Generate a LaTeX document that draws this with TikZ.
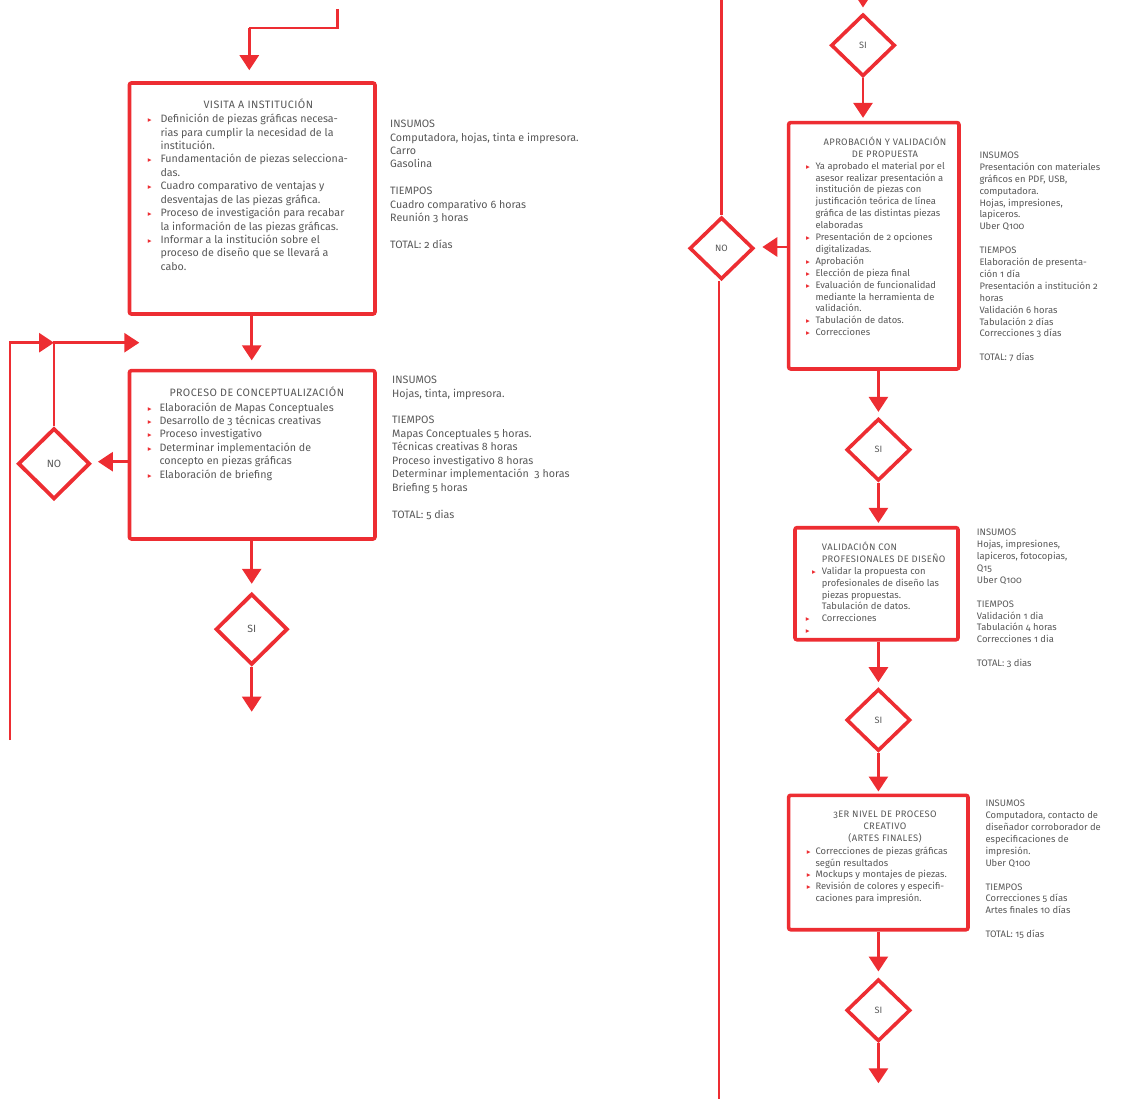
\documentclass[tikz,border=0pt]{standalone}
\usepackage{fontspec}
\setmainfont{Fira Sans}[Numbers=OldStyle]
\newfontfamily\symf{DejaVu Sans}
\newfontfamily\capsf{Fira Sans}[Numbers=OldStyle,LetterSpace=4]
\usetikzlibrary{arrows.meta,shapes.geometric}
\definecolor{accent}{RGB}{237,45,50}
\definecolor{txt}{RGB}{88,88,88}
\newlength\bw
\newcommand\bul{{\symf\fontsize{7.5}{7.5}\selectfont\textcolor{accent}{\char"25B8}}}
\newcommand\B{\makebox[\bw][l]{\bul}}
\newcommand\I{\hspace*{\bw}}
\tikzset{
  procbox/.style={draw=accent, line width=3.6pt, rounded corners=2pt, inner sep=0pt},
  decL/.style={diamond, draw=accent, line width=3.8pt, inner sep=0pt, minimum width=72pt, minimum height=71pt, text=txt, font=\fontsize{10.5}{11}\selectfont},
  decR/.style={diamond, draw=accent, line width=3.6pt, inner sep=0pt, minimum width=64pt, minimum height=62pt, text=txt, font=\fontsize{9.2}{10}\selectfont},
  conn/.style={draw=accent, line width=2.8pt},
  arr/.style={conn, -{Triangle[width=19pt,length=15pt]}},
  bigtxt/.style={inner sep=0pt, text=txt, font=\fontsize{10.7}{13.43}\selectfont},
  smalltxt/.style={inner sep=0pt, text=txt, font=\fontsize{9.4}{11.9}\selectfont},
  bigcap/.style={inner sep=0pt, text=txt, font=\capsf\fontsize{10.7}{13.43}\selectfont},
  smallcap/.style={inner sep=0pt, text=txt, font=\capsf\fontsize{9.4}{11.9}\selectfont},
}
\begin{document}
\begin{tikzpicture}[x=1pt,y=-1pt]
\useasboundingbox (0,0) rectangle (1145,1099);

% ---------------- left column ----------------
\node[procbox, minimum width=245.5pt, minimum height=231pt] (b1) at (252.2,198.5) {};
\node[procbox, minimum width=245.5pt, minimum height=168.3pt] (b2) at (252.2,454.8) {};
\node[decL] (no1) at (54,463.7) {NO};
\node[decL] (si1) at (251.7,629.2) {SI};

\coordinate (s0) at (337.3,9);
\coordinate (s1) at (337.3,28);
\coordinate (k1) at (249.3,28);
\coordinate (e1) at (251.7,711.7);
\coordinate (t1) at (139.3,342.7);
\coordinate (l0) at (10,740);

\draw[conn] (s0) -- (s1) -- (k1);
\draw[arr, shorten >=11pt] (k1) -- (k1 |- b1.north);
\draw[arr, shorten >=8.5pt] (b1.south -| si1) -- (b2.north -| si1);
\draw[arr, shorten >=8pt] (b2.south -| si1) -- (si1.north);
\draw[arr] (si1.south) -- (e1);
\draw[arr, shorten >=6pt] (b2.west |- 0,461.7) -- (no1.east |- 0,461.7);
\draw[arr] (no1.north) |- (t1);
\draw[arr] (l0) |- (no1.north |- t1);

% box 1 text
\node[bigcap, anchor=base] (b1t) at (258.3,108.5) {VISITA A INSTITUCIÓN};
\node[bigtxt, anchor=north west] (b1l) at (147.7,113.1) {\setlength\bw{12.6pt}\begin{tabular}{@{}l@{}}
\B Definición de piezas gráficas necesa-\\
\I rias para cumplir la necesidad de la\\
\I institución.\\
\B Fundamentación de piezas selecciona-\\
\I das.\\
\B Cuadro comparativo de ventajas y\\
\I desventajas de las piezas gráfica.\\
\B Proceso de investigación para recabar\\
\I la información de las piezas gráficas.\\
\B Informar a la institución sobre el\\
\I proceso de diseño que se llevará a\\
\I cabo.
\end{tabular}};
\node[bigtxt, anchor=north west] (s1t) at (390,118.1) {\begin{tabular}{@{}l@{}}
INSUMOS\\
Computadora, hojas, tinta e impresora.\\
Carro\\
Gasolina\\
{}\\
TIEMPOS\\
Cuadro comparativo 6 horas\\
Reunión 3 horas\\
{}\\
TOTAL: 2 días
\end{tabular}};

% box 2 text
\node[bigcap, anchor=base] (b2t) at (256.8,396.8) {PROCESO DE CONCEPTUALIZACIÓN};
\node[bigtxt, anchor=north west] (b2l) at (147.7,401.4) {\setlength\bw{11.6pt}\begin{tabular}{@{}l@{}}
\B Elaboración de Mapas Conceptuales\\
\B Desarrollo de 3 técnicas creativas\\
\B Proceso investigativo\\
\B Determinar implementación de\\
\I concepto en piezas gráficas\\
\B Elaboración de briefing
\end{tabular}};
\node[bigtxt, anchor=north west] (s2t) at (392,374.1) {\begin{tabular}{@{}l@{}}
INSUMOS\\
Hojas, tinta, impresora.\\
{}\\
TIEMPOS\\
Mapas Conceptuales 5 horas.\\
Técnicas creativas 8 horas\\
Proceso investigativo 8 horas\\
Determinar implementación\ \ 3 horas\\
Briefing 5 horas\\
{}\\
TOTAL: 5 dias
\end{tabular}};

% ---------------- right column ----------------
\node[decR] (sir1) at (863,45.3) {SI};
\node[procbox, minimum width=170.3pt, minimum height=246.3pt] (b3) at (873.8,245.8) {};
\node[decR] (nor) at (721.5,248.3) {NO};
\node[decR] (sir2) at (878.4,449.7) {SI};
\node[procbox, minimum width=163pt, minimum height=112pt] (b4) at (876.5,583.7) {};
\node[decR] (sir3) at (878.4,720) {SI};
\node[procbox, minimum width=179.3pt, minimum height=134.4pt] (b5) at (878.3,862.5) {};
\node[decR] (sir4) at (878.4,1010.3) {SI};

\coordinate (r0) at (863,0);
\coordinate (rt) at (721.5,0);
\coordinate (rb) at (719,1099);
\coordinate (e2) at (878.4,1083.3);

\draw[arr, shorten >=5pt] (r0) -- (sir1.north);
\draw[arr, shorten >=3pt] (sir1.south) -- (sir1.south |- b3.north);
\draw[arr, shorten >=5pt] (b3.south -| sir2.north) -- (sir2.north);
\draw[arr, shorten >=3pt] (sir2.south) -- (sir2.south |- b4.north);
\draw[arr, shorten >=5pt] (b4.south -| sir3.north) -- (sir3.north);
\draw[arr, shorten >=2pt] (sir3.south) -- (sir3.south |- b5.north);
\draw[arr, shorten >=6pt] (b5.south -| sir4.north) -- (sir4.north);
\draw[arr] (sir4.south) -- (e2);
\draw[arr, shorten >=7pt] (b3.west |- 0,247) -- (nor.east |- 0,247);
\draw[conn] (rt) -- (nor.north);
\draw[conn] (nor.south -| rb) -- (rb);

% box 3 text
\node[smallcap, anchor=north] (b3t) at (885,136.6) {\begin{tabular}{@{}c@{}}APROBACIÓN Y VALIDACIÓN\\DE PROPUESTA\end{tabular}};
\node[smalltxt, anchor=north west] (b3l) at (806,160.6) {\setlength\bw{9.3pt}\begin{tabular}{@{}l@{}}
\B Ya aprobado el material por el\\
\I asesor realizar presentación a\\
\I institución de piezas con\\
\I justificación teórica de línea\\
\I gráfica de las distintas piezas\\
\I elaboradas\\
\B Presentación de 2 opciones\\
\I digitalizadas.\\
\B Aprobación\\
\B Elección de pieza final\\
\B Evaluación de funcionalidad\\
\I mediante la herramienta de\\
\I validación.\\
\B Tabulación de datos.\\
\B Correcciones
\end{tabular}};
\node[smalltxt, anchor=north west] (s3t) at (979.3,149.9) {\begin{tabular}{@{}l@{}}
INSUMOS\\
Presentación con materiales\\
gráficos en PDF, USB,\\
computadora.\\
Hojas, impresiones,\\
lapiceros.\\
Uber Q100\\
{}\\
TIEMPOS\\
Elaboración de presenta-\\
ción 1 día\\
Presentación a institución 2\\
horas\\
Validación 6 horas\\
Tabulación 2 días\\
Correcciones 3 días\\
{}\\
TOTAL: 7 días
\end{tabular}};

% box 4 text
\node[smalltxt, anchor=north west] (b4l) at (805.7,541.6) {\setlength\bw{16pt}\begin{tabular}{@{}l@{}}
\I {\capsf VALIDACIÓN CON}\\
\I {\capsf PROFESIONALES DE DISEÑO}\\
\makebox[\bw][l]{\hspace*{6.3pt}\bul}Validar la propuesta con\\
\I profesionales de diseño las\\
\I piezas propuestas.\\
\I Tabulación de datos.\\
\B Correcciones\\
\B
\end{tabular}};
\node[smalltxt, anchor=north west] (s4t) at (976.7,527.2) {\begin{tabular}{@{}l@{}}
INSUMOS\\
Hojas, impresiones,\\
lapiceros, fotocopias,\\
Q15\\
Uber Q100\\
{}\\
TIEMPOS\\
Validación 1 dia\\
Tabulación 4 horas\\
Correcciones 1 dia\\
{}\\
TOTAL: 3 dias
\end{tabular}};

% box 5 text
\node[smallcap, anchor=north] (b5t) at (885,809.2) {\begin{tabular}{@{}c@{}}3ER NIVEL DE PROCESO\\CREATIVO\\(ARTES FINALES)\end{tabular}};
\node[smalltxt, anchor=north west] (b5l) at (806.7,845.6) {\setlength\bw{8.6pt}\begin{tabular}{@{}l@{}}
\B Correcciones de piezas gráficas\\
\I según resultados\\
\B Mockups y montajes de piezas.\\
\B Revisión de colores y especifi-\\
\I caciones para impresión.
\end{tabular}};
\node[smalltxt, anchor=north west] (s5t) at (985.3,798.2) {\begin{tabular}{@{}l@{}}
INSUMOS\\
Computadora, contacto de\\
diseñador corroborador de\\
especificaciones de\\
impresión.\\
Uber Q100\\
{}\\
TIEMPOS\\
Correcciones 5 días\\
Artes finales 10 días\\
{}\\
TOTAL: 15 días
\end{tabular}};
\end{tikzpicture}
\end{document}
